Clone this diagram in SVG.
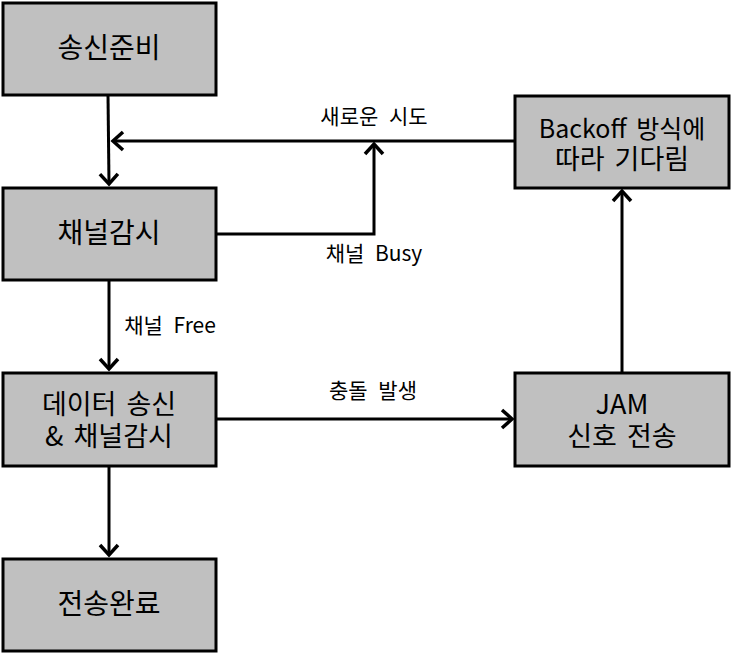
<svg xmlns="http://www.w3.org/2000/svg" width="733" height="654" viewBox="0 0 733 654">
<style>
.box{fill:#c0c0c0;stroke:#000;stroke-width:3}
.t{font-family:"Noto Sans CJK KR","Noto Sans",sans-serif;font-size:27px;word-spacing:4px;fill:#000;text-anchor:middle}
.l{font-family:"Noto Sans CJK KR","Noto Sans",sans-serif;font-size:21px;word-spacing:6px;fill:#000;text-anchor:middle}
.c{fill:none;stroke:#000;stroke-width:3}
</style>
<defs>
<marker id="a" markerUnits="userSpaceOnUse" viewBox="-14 -12 18 24" refX="0" refY="0" markerWidth="18" markerHeight="24" orient="auto">
<path d="M-10,-9 L0,0 L-10,9" fill="none" stroke="#000" stroke-width="3.5"/>
</marker>
</defs>
<rect width="733" height="654" fill="#fff"/>
<g id="connectors">
<path class="c" d="M108,95 L109,184" marker-end="url(#a)"/>
<path class="c" d="M515,141 L113,141" marker-end="url(#a)"/>
<path class="c" d="M216,234 L374,234 L374,144" marker-end="url(#a)"/>
<path class="c" d="M109,280 L109,369" marker-end="url(#a)"/>
<path class="c" d="M216,419 L512,419" marker-end="url(#a)"/>
<path class="c" d="M109,466 L109,555" marker-end="url(#a)"/>
<path class="c" d="M622,373 L622,191" marker-end="url(#a)"/>
<text class="l" x="374" y="124">새로운 시도</text>
<text class="l" x="374" y="261">채널 Busy</text>
<text class="l" x="170" y="333">채널 Free</text>
<text class="l" x="373" y="398">충돌 발생</text>
</g>
<g id="n1"><rect class="box" x="3" y="3" width="213" height="92"/><text class="t" x="109" y="58" style="font-size:28px">송신준비</text></g>
<g id="n2"><rect class="box" x="3" y="188" width="213" height="92"/><text class="t" x="109" y="243" style="font-size:28px">채널감시</text></g>
<g id="n3"><rect class="box" x="3" y="373" width="213" height="93"/><text class="t" x="109" y="414">데이터 송신</text><text class="t" x="109" y="446">&amp; 채널감시</text></g>
<g id="n4"><rect class="box" x="3" y="559" width="213" height="92"/><text class="t" x="109" y="614" style="font-size:28px">전송완료</text></g>
<g id="n5"><rect class="box" x="515" y="96" width="214" height="92"/><text class="t" x="622" y="138" style="font-size:25px">Backoff 방식에</text><text class="t" x="622" y="169">따라 기다림</text></g>
<g id="n6"><rect class="box" x="515" y="373" width="214" height="93"/><text class="t" x="622" y="414">JAM</text><text class="t" x="622" y="446">신호 전송</text></g>
</svg>
